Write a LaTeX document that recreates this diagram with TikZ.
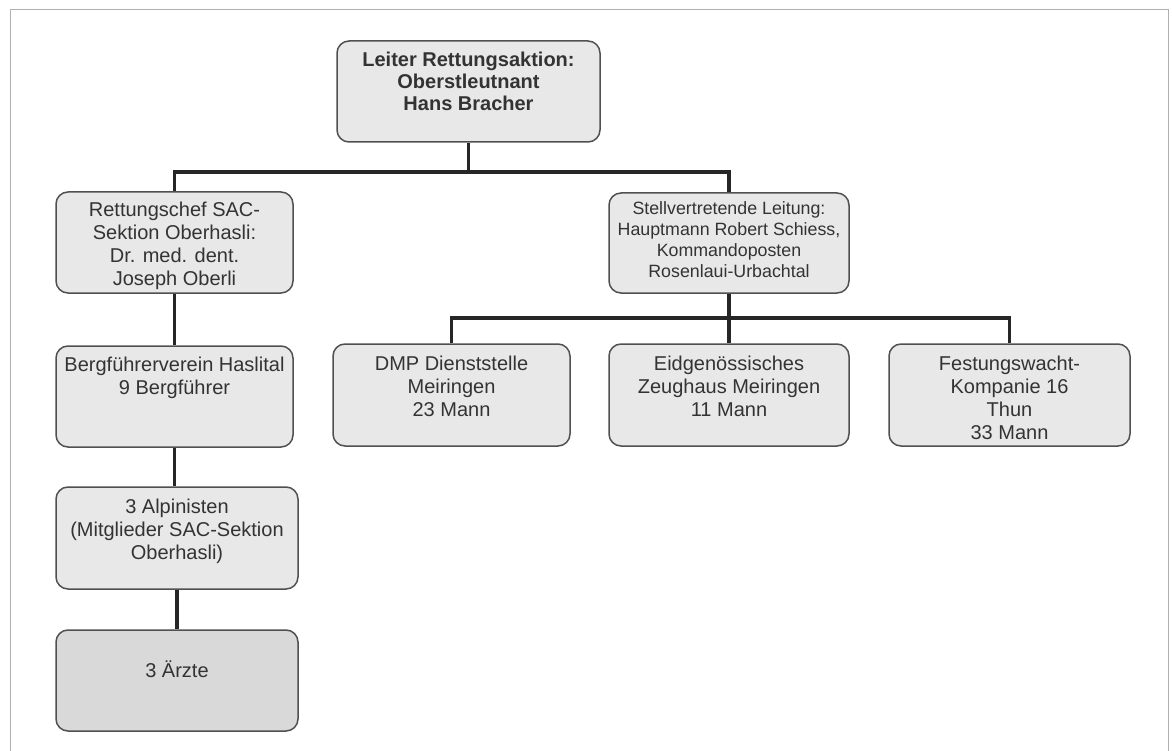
\documentclass[tikz,border=0pt]{standalone}
\usepackage{fontspec}
\setmainfont{Liberation Sans}
\usetikzlibrary{backgrounds}
\definecolor{boxfill}{HTML}{E8E8E8}
\definecolor{boxfilldark}{HTML}{D9D9D9}
\definecolor{boxline}{HTML}{505050}
\definecolor{conn}{HTML}{262626}
\definecolor{txt}{HTML}{333333}
\definecolor{framecol}{HTML}{B0B0B0}
% width, height, first-baseline offset, font, text
\newcommand{\orgbx}[5]{\parbox[c][#2pt][t]{#1pt}{#4\centering\rule{0pt}{#3pt}#5}}
\newcommand{\fnorm}{\fontsize{20}{23}\selectfont}
\newcommand{\fsmall}{\fontsize{17.8}{20.7}\selectfont}
\newcommand{\fbold}{\fontsize{20}{22}\selectfont\bfseries}
\tikzset{
  orgbox/.style={draw=boxline, line width=1.5pt, fill=boxfill, rounded corners=12pt,
    inner sep=0pt, text=txt},
  orgboxdark/.style={orgbox, fill=boxfilldark},
  connector/.style={draw=conn, line width=3.5pt, line join=miter},
  framestyle/.style={draw=framecol, line width=1pt}
}
\begin{document}
\begin{tikzpicture}[x=1pt, y=-1pt]
\useasboundingbox (0,0) rectangle (1172,751);
\draw[framestyle] (10,751) -- (10,10) -- (1168,10) -- (1168,751);

\node[orgbox] (top) at (468.5,91.5)
  {\orgbx{263}{101}{26}{\fbold}{Leiter Rettungsaktion:\\Oberstleutnant\\Hans Bracher}};
\node[orgbox] (rett) at (174.5,242.5)
  {\orgbx{237}{101}{25}{\fnorm}{Rettungschef SAC-\\Sektion Oberhasli:\\Dr. med. dent.\\Joseph Oberli}};
\node[orgbox] (stell) at (729,243)
  {\orgbx{240}{100}{22}{\fsmall}{Stellvertretende Leitung:\\Hauptmann Robert Schiess,\\Kommandoposten\\Rosenlaui-Urbachtal}};
\node[orgbox] (dmp) at (451.5,395)
  {\orgbx{237}{102}{26}{\fnorm}{DMP Dienststelle\\Meiringen\\23 Mann}};
\node[orgbox] (eid) at (729,395)
  {\orgbx{240}{102}{26}{\fnorm}{Eidgenössisches\\Zeughaus Meiringen\\11 Mann}};
\node[orgbox] (fest) at (1009.5,395)
  {\orgbx{241}{102}{26}{\fnorm}{Festungswacht-\\Kompanie 16\\Thun\\33 Mann}};
\node[orgbox] (berg) at (174.5,396.5)
  {\orgbx{237}{101}{25}{\fnorm}{Bergführerverein Haslital\\9 Bergführer}};
\node[orgbox] (alp) at (177,538)
  {\orgbx{242}{102}{26}{\fnorm}{3 Alpinisten\\(Mitglieder SAC-Sektion\\Oberhasli)}};
\node[orgboxdark] (arz) at (177,680.5)
  {\orgbx{242}{101}{47}{\fnorm}{3 Ärzte}};

\coordinate (barA) at (0,172);
\coordinate (barB) at (0,318);

\begin{scope}[on background layer]
  \draw[connector] (top.south) -- (top.south |- barA);
  \draw[connector] (rett.north) |- (stell.north |- barA) -- (stell.north);
  \draw[connector] (stell.south) -- (stell.south |- barB);
  \draw[connector] (dmp.north) |- (fest.north |- barB) -- (fest.north);
  \draw[connector] (eid.north) -- (eid.north |- barB);
  \draw[connector] (rett.south) -- (berg.north);
  \draw[connector] (berg.south) -- (berg.south |- alp.north);
  \draw[connector] (alp.south) -- (arz.north);
\end{scope}
\end{tikzpicture}
\end{document}
